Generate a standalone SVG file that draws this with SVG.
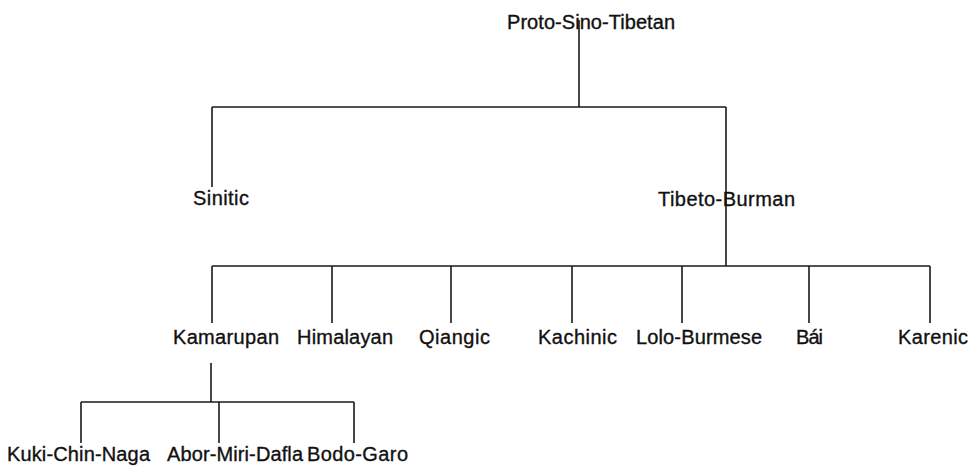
<svg xmlns="http://www.w3.org/2000/svg" width="975" height="466" viewBox="0 0 975 466">
<style>
.t{font-family:"Liberation Sans",Arial,Helvetica,sans-serif;font-size:20px;fill:#111;stroke:#111;stroke-width:0.35}
.c{stroke:#1a1a1a;stroke-width:1.6;fill:none}
</style>
<rect width="975" height="466" fill="#fff"/>
<g id="connectors" class="c">
<path d="M579 20V107M212 107H726M212 107V187M726 107V266"/>
<path d="M212 266H930M212 266V323M332 266V323M451 266V323M572 266V323M682 266V323M809 266V323M930 266V323"/>
<path d="M211 363V402M81 402H354M81 402V443M219 402V443M354 402V443"/>
</g>
<g id="n-proto"><text class="t" x="507" y="29" textLength="168" lengthAdjust="spacing">Proto-Sino-Tibetan</text></g>
<g id="n-sinitic"><text class="t" x="193" y="205" textLength="56" lengthAdjust="spacing">Sinitic</text></g>
<g id="n-tibetoburman"><text class="t" x="658" y="206" textLength="137" lengthAdjust="spacing">Tibeto-Burman</text></g>
<g id="n-kamarupan"><text class="t" x="173" y="344" textLength="106" lengthAdjust="spacing">Kamarupan</text></g>
<g id="n-himalayan"><text class="t" x="297" y="344" textLength="96" lengthAdjust="spacing">Himalayan</text></g>
<g id="n-qiangic"><text class="t" x="419" y="344" textLength="71" lengthAdjust="spacing">Qiangic</text></g>
<g id="n-kachinic"><text class="t" x="538" y="344" textLength="79" lengthAdjust="spacing">Kachinic</text></g>
<g id="n-loloburmese"><text class="t" x="636" y="344" textLength="126" lengthAdjust="spacing">Lolo-Burmese</text></g>
<g id="n-bai"><text class="t" x="796" y="344" textLength="27" lengthAdjust="spacing">Bái</text></g>
<g id="n-karenic"><text class="t" x="898" y="344" textLength="70" lengthAdjust="spacing">Karenic</text></g>
<g id="n-kukichinnaga"><text class="t" x="7" y="461" textLength="143" lengthAdjust="spacing">Kuki-Chin-Naga</text></g>
<g id="n-abormiridafla"><text class="t" x="167" y="461" textLength="136" lengthAdjust="spacing">Abor-Miri-Dafla</text></g>
<g id="n-bodogaro"><text class="t" x="307" y="461" textLength="101" lengthAdjust="spacing">Bodo-Garo</text></g>
</svg>
